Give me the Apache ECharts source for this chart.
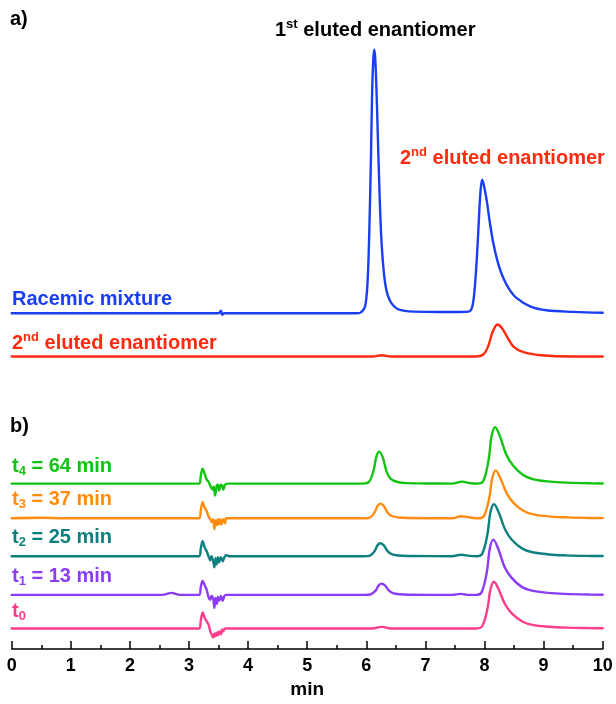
<!DOCTYPE html>
<html>
<head>
<meta charset="utf-8">
<script src="https://cdn.jsdelivr.net/npm/echarts@6/dist/echarts.min.js"></script>
<style>
  html, body { margin: 0; padding: 0; background: #fff; }
  #main { width: 616px; height: 704px; }
</style>
</head>
<body>
<div id="main"></div>
<script>
// x tick labels (min)
var xTicks = [0, 1, 2, 3, 4, 5, 6, 7, 8, 9, 10];

// signals, [min, height above own baseline]
var racemic = [
  [0, 0], [3.5, 0], [3.54, 2.5], [3.56, -1.5], [3.6, 0], [5.85, 0],
  [5.92, 1.5], [5.98, 7], [6.02, 30], [6.05, 80], [6.08, 160], [6.1, 225],
  [6.12, 256], [6.135, 264], [6.15, 256], [6.17, 228], [6.19, 188], [6.22, 128],
  [6.25, 80], [6.29, 45], [6.34, 23], [6.4, 12.5], [6.47, 7], [6.54, 4],
  [6.65, 2.4], [6.8, 1.6], [7.2, 1.2], [7.6, 1.2], [7.73, 1.6], [7.79, 6],
  [7.83, 22], [7.87, 55], [7.9, 88], [7.93, 120], [7.96, 133.7], [7.99, 128],
  [8.04, 112], [8.09, 91], [8.15, 70], [8.23, 50], [8.32, 35], [8.42, 24],
  [8.54, 15.4], [8.77, 7], [9.05, 3], [9.5, 1.4], [10, 0.5]
];
var secondOnly = [
  [0, 0], [6.1, 0], [6.26, 1.2], [6.42, 0], [7.85, 0], [7.98, 2],
  [8.06, 10], [8.14, 25], [8.22, 32], [8.29, 28.7], [8.38, 20], [8.49, 10],
  [8.66, 4.3], [8.95, 1.3], [9.5, 0], [10, 0]
];
var t4 = [
  [0, 0], [3.17, 0], [3.2, 8], [3.23, 15], [3.27, 9], [3.3, 4], [3.33, 2],
  [3.36, -2], [3.4, -6], [3.42, -3], [3.44, -12], [3.47, -2], [3.49, -1],
  [3.51, -7], [3.54, -1], [3.56, -2], [3.58, -6], [3.61, -1], [3.65, 0],
  [5.9, 0], [6.03, 1], [6.12, 12.6], [6.17, 27], [6.22, 32], [6.28, 26],
  [6.34, 12.6], [6.41, 5], [6.53, 1.6], [6.7, 0.5], [7.0, 0.2], [7.45, 0],
  [7.62, 2], [7.75, 0.5], [7.88, 0], [7.98, 2.6], [8.07, 24], [8.12, 47.6],
  [8.18, 56.6], [8.26, 47.6], [8.37, 29], [8.49, 17.6], [8.66, 8.3],
  [8.83, 4.3], [9.11, 2], [9.39, 1], [9.8, 0.3], [10, 0.2]
];
var t3 = [
  [0, 0], [0.5, 0.5], [0.9, 0], [3.17, 0], [3.2, 8], [3.23, 16], [3.27, 10],
  [3.3, 7], [3.33, 2], [3.36, -1], [3.39, -4], [3.41, -1], [3.43, -11],
  [3.45, -2], [3.47, -7], [3.49, -1], [3.51, -6], [3.53, -1], [3.55, -6],
  [3.58, -1], [3.61, -5], [3.63, 0], [5.95, 0], [6.05, 0.5], [6.14, 6],
  [6.19, 12.4], [6.24, 14.7], [6.3, 12], [6.36, 5.8], [6.43, 2.3], [6.55, 0.8],
  [6.7, 0.3], [7.45, 0], [7.6, 2], [7.75, 0.8], [7.9, 0], [7.99, 2.2],
  [8.08, 20], [8.13, 40], [8.19, 48], [8.27, 40], [8.38, 24.5], [8.5, 15],
  [8.67, 7], [8.84, 3.6], [9.12, 1.7], [9.4, 0.9], [9.8, 0.3], [10, 0.2]
];
var t2 = [
  [0, 0], [3.17, 0], [3.2, 8], [3.23, 15], [3.27, 8], [3.3, 5], [3.33, 0],
  [3.36, -4], [3.38, 0], [3.41, -5], [3.43, -11], [3.45, -2], [3.47, -8],
  [3.49, -1], [3.51, -6], [3.54, -1], [3.57, -5], [3.6, -1], [3.63, 1],
  [3.68, 0], [5.95, 0], [6.05, 0.4], [6.14, 5], [6.19, 11], [6.24, 13],
  [6.3, 10.6], [6.36, 5.1], [6.43, 2], [6.55, 0.7], [6.7, 0.3], [7.45, 0],
  [7.6, 1.5], [7.75, 0.4], [7.86, 0], [7.96, 2.4], [8.05, 22], [8.1, 44],
  [8.16, 52], [8.24, 44], [8.35, 26.5], [8.47, 16], [8.64, 7.6], [8.81, 4],
  [9.09, 1.8], [9.37, 0.9], [9.8, 0.3], [10, 0.2]
];
var t1 = [
  [0, 0], [2.55, 0], [2.7, 2], [2.85, 0], [3.17, 0], [3.2, 8], [3.23, 14],
  [3.27, 9], [3.3, 5], [3.33, -2], [3.36, -5], [3.38, -1], [3.41, -4],
  [3.43, -13], [3.45, -3], [3.47, -9], [3.49, -2], [3.51, -6], [3.54, -1],
  [3.57, -6], [3.6, -1], [3.63, 0], [5.97, 0], [6.07, 0.4], [6.16, 4.5],
  [6.21, 9.5], [6.26, 11.3], [6.32, 9.2], [6.38, 4.5], [6.45, 1.8],
  [6.57, 0.6], [6.72, 0.2], [7.45, 0], [7.6, 1], [7.72, 0], [7.85, 0],
  [7.95, 2.5], [8.04, 23], [8.09, 46.5], [8.15, 55.3], [8.23, 46.5],
  [8.34, 28], [8.46, 17], [8.63, 8], [8.8, 4.2], [9.08, 2], [9.36, 1],
  [9.8, 0.3], [10, 0.2]
];
var t0 = [
  [0, 0], [3.17, 0], [3.2, 8], [3.23, 16], [3.27, 10], [3.3, 7], [3.33, 4],
  [3.36, -3], [3.39, -7], [3.41, -9], [3.43, -5], [3.45, -8], [3.47, -4],
  [3.49, -7], [3.51, -3], [3.54, -6], [3.56, -1], [3.58, -3], [3.61, 0],
  [6.1, 0], [6.26, 1.6], [6.42, 0], [7.86, 0], [7.96, 2.2], [8.05, 19.6],
  [8.1, 39], [8.16, 46.7], [8.24, 39], [8.35, 24], [8.47, 14.5], [8.64, 7],
  [8.81, 3.6], [9.09, 1.7], [9.37, 0.8], [9.8, 0.3], [10, 0.2]
];

var traceNames = ['Racemic mixture', '2nd eluted enantiomer', 't4 = 64 min', 't3 = 37 min', 't2 = 25 min', 't1 = 13 min', 't0'];
var traces = [racemic, secondOnly, t4, t3, t2, t1, t0];
// vertical stacking offset of each trace
var baselines = [336.3, 293, 165.7, 131, 93, 54.3, 20.7];
var colors = ['#1a3ef5', '#ff2a10', '#12c412', '#ff8c10', '#0e7f7f', '#8c3cf5', '#ff3c8c'];

var myChart = echarts.init(document.getElementById('main'));

var font = '"Liberation Sans", Arial, sans-serif';

function shift(arr, off) {
  return arr.map(function (p) { return [p[0], p[1] + off]; });
}

var series = traces.map(function (tr, i) {
  return {
    name: traceNames[i],
    type: 'line',
    data: shift(tr, baselines[i]),
    showSymbol: false,
    smooth: 0.35,
    lineStyle: { color: colors[i], width: 2.4, join: 'round', cap: 'round' },
    itemStyle: { color: colors[i] },
    z: 10 - i
  };
});

function label(left, centerY, text, color) {
  var r = {
    m: { fontSize: 20, fontWeight: 'bold', fontFamily: font, fill: color, lineHeight: 24 },
    sup: { fontSize: 13, fontWeight: 'bold', fontFamily: font, fill: color, lineHeight: 13, verticalAlign: 'top' },
    sub: { fontSize: 13, fontWeight: 'bold', fontFamily: font, fill: color, lineHeight: 13, verticalAlign: 'bottom' }
  };
  return {
    type: 'text',
    left: left,
    top: centerY - 12,
    z: 100,
    style: { text: text, rich: r, fill: color, font: 'bold 20px ' + font }
  };
}

var option = {
  animation: false,
  grid: { left: 11.7, right: 13.3, top: 0, bottom: 54 },
  xAxis: {
    type: 'value',
    min: xTicks[0],
    max: xTicks[xTicks.length - 1],
    interval: 1,
    name: 'min',
    nameLocation: 'middle',
    nameGap: 30,
    nameTextStyle: { fontSize: 19, fontWeight: 'bold', fontFamily: font, color: '#000' },
    axisLine: { lineStyle: { color: '#000', width: 1.5 } },
    axisTick: { inside: true, length: 8, lineStyle: { color: '#000', width: 1.5 } },
    minorTick: { show: true, splitNumber: 2, length: 4, lineStyle: { color: '#000', width: 1.5 } },
    axisLabel: { fontSize: 18, fontWeight: 'bold', fontFamily: font, color: '#000', margin: 8 },
    splitLine: { show: false }
  },
  yAxis: {
    type: 'value',
    min: 0,
    max: 650,
    show: false
  },
  graphic: [
    label(10, 21, '{m|a)}', '#000'),
    label(275, 30, '{m|1}{sup|st}{m| eluted enantiomer}', '#000'),
    label(400, 158, '{m|2}{sup|nd}{m| eluted enantiomer}', '#ff2a10'),
    label(12, 301, '{m|Racemic mixture}', '#1a3ef5'),
    label(12, 343, '{m|2}{sup|nd}{m| eluted enantiomer}', '#ff2a10'),
    label(10, 428, '{m|b)}', '#000'),
    label(12, 468, '{m|t}{sub|4}{m| = 64 min}', '#12c412'),
    label(12, 501, '{m|t}{sub|3}{m| = 37 min}', '#ff8c10'),
    label(12, 539, '{m|t}{sub|2}{m| = 25 min}', '#0e7f7f'),
    label(12, 578, '{m|t}{sub|1}{m| = 13 min}', '#8c3cf5'),
    label(12, 613, '{m|t}{sub|0}', '#ff3c8c')
  ],
  series: series
};

option && myChart.setOption(option);
</script>
</body>
</html>
